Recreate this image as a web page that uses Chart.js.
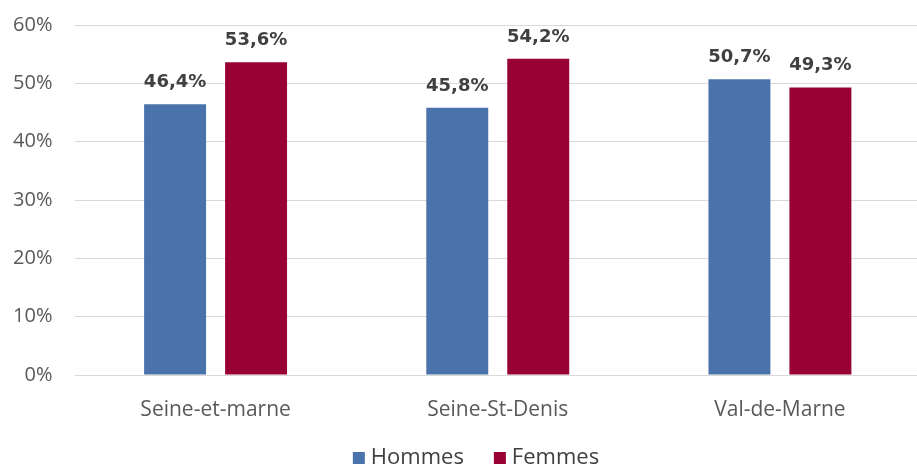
<!DOCTYPE html>
<html><head><meta charset="utf-8">
<script src="https://cdn.jsdelivr.net/npm/chart.js@4/dist/chart.umd.min.js"></script>
<style>html,body{margin:0;padding:0;background:#fff;overflow:hidden}#wrap{width:917px;height:468px;overflow:hidden}</style>
</head><body><div id="wrap"><canvas id="c" width="921" height="468"></canvas></div>
<script>
const categories = ["Seine-et-marne", "Seine-St-Denis", "Val-de-Marne"];
const hommes = [46.4, 45.8, 50.7];
const femmes = [53.6, 54.2, 49.3];
const seriesNames = ["Hommes", "Femmes"];
const yTicks = [0, 10, 20, 30, 40, 50, 60];
const colors = ['#4A73AB', '#990033'];

const fmt = v => v.toFixed(1).replace('.', ',') + '%';

const labelPlugin = {
  id: 'valueLabels',
  afterDatasetsDraw(chart) {
    const ctx = chart.ctx;
    ctx.save();
    ctx.font = 'bold 18px "DejaVu Sans"';
    ctx.fillStyle = '#404040';
    ctx.textAlign = 'center';
    ctx.textBaseline = 'alphabetic';
    chart.data.datasets.forEach((ds, i) => {
      chart.getDatasetMeta(i).data.forEach((bar, j) => {
        ctx.fillText(fmt(ds.data[j]), bar.x, bar.y - 17);
      });
    });
    ctx.restore();
  }
};

const legendPlugin = {
  id: 'customLegend',
  afterDraw(chart) {
    const ctx = chart.ctx;
    ctx.save();
    ctx.font = '22px "Open Sans"';
    ctx.textBaseline = 'middle';
    ctx.textAlign = 'left';
    const box = 12, gapText = 6, gapItem = 30, cy = 458, center = 476;
    const items = chart.data.datasets.map(ds => ({ label: ds.label, color: ds.backgroundColor, w: ctx.measureText(ds.label).width }));
    let total = 0;
    items.forEach((it, i) => { total += box + gapText + it.w + (i < items.length - 1 ? gapItem : 0); });
    let x = center - total / 2;
    items.forEach(it => {
      ctx.fillStyle = it.color;
      ctx.fillRect(x, cy - 3 - box / 2 + 3, box, box);
      x += box + gapText;
      ctx.fillStyle = '#404040';
      ctx.fillText(it.label, x, cy);
      x += it.w + gapItem;
    });
    ctx.restore();
  }
};

new Chart(document.getElementById('c'), {
  type: 'bar',
  data: {
    labels: categories,
    datasets: [
      { label: seriesNames[0], data: hommes, backgroundColor: colors[0] },
      { label: seriesNames[1], data: femmes, backgroundColor: colors[1] }
    ]
  },
  options: {
    responsive: false,
    animation: false,
    layout: { padding: { top: 25, right: 0, left: 0, bottom: 0 } },
    datasets: { bar: { barPercentage: 0.765, categoryPercentage: 0.574 } },
    plugins: {
      legend: { display: false },
      tooltip: { enabled: false }
    },
    scales: {
      x: {
        grid: { display: false, drawTicks: false },
        border: { display: false },
        ticks: { color: '#595959', font: { family: '"Open Sans"', size: 21 }, padding: 22 },
        afterFit(s) { s.height = 93; s.paddingLeft = 0; s.paddingRight = 0; }
      },
      y: {
        min: 0, max: 60,
        afterBuildTicks(s) { s.ticks = yTicks.map(v => ({ value: v })); },
        grid: { color: '#d9d9d9', lineWidth: 1, drawTicks: false },
        border: { display: false },
        ticks: {
          color: '#595959',
          font: { family: '"Open Sans"', size: 20 },
          padding: 22,
          callback: v => v + '%'
        },
        afterFit(s) { s.width = 74.5; s.paddingTop = 0; s.paddingBottom = 0; }
      }
    }
  },
  plugins: [labelPlugin, legendPlugin]
});
</script></body></html>
